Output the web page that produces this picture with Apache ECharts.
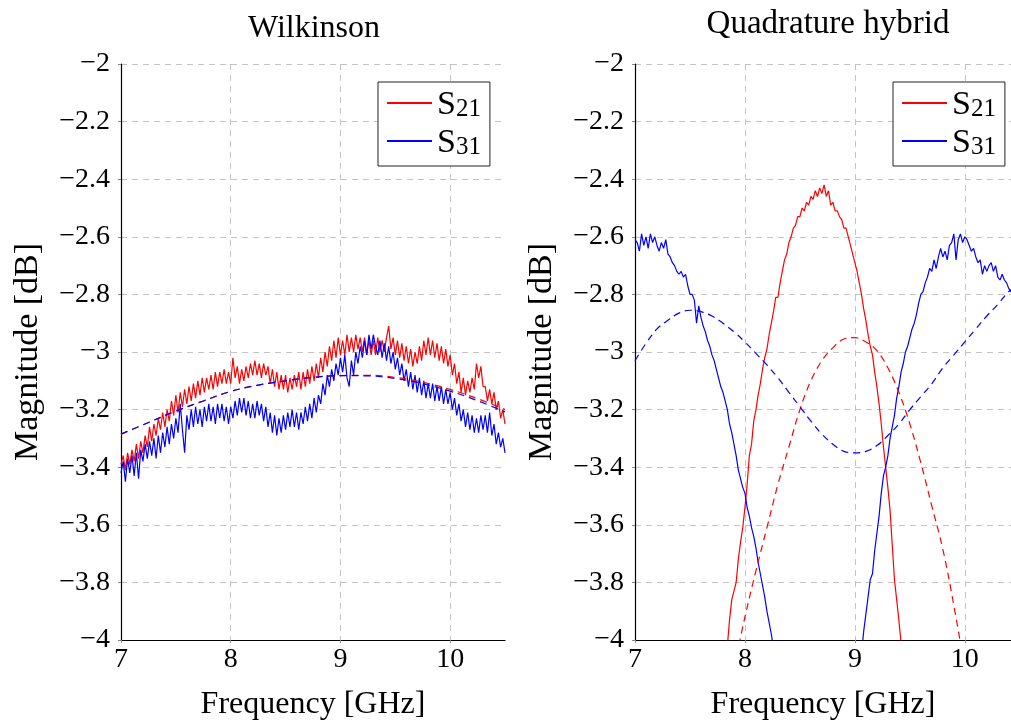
<!DOCTYPE html>
<html>
<head>
<meta charset="utf-8">
<style>
html,body{margin:0;padding:0;background:#fff;}
#chart{width:1011px;height:727px;}
</style>
<script src="https://cdn.jsdelivr.net/npm/echarts/dist/echarts.min.js"></script>
</head>
<body>
<div id="chart"></div>
<script>
// ---------- data ----------
const titles = ['Wilkinson', 'Quadrature hybrid'];
const xTicks = [7, 8, 9, 10];
const yTickStep = 0.2;

// Wilkinson measured, sampled every 0.02 GHz from 7.00 GHz
const wilkStart = 7.00, wilkStep = 0.02;
const wilkS21 = [
-3.39,-3.36,-3.41,-3.35,-3.39,-3.34,-3.38,-3.32,-3.37,-3.31,
-3.35,-3.29,-3.33,-3.26,-3.31,-3.25,-3.29,-3.23,-3.27,-3.21,
-3.26,-3.20,-3.24,-3.17,-3.22,-3.15,-3.21,-3.14,-3.19,-3.13,
-3.18,-3.12,-3.17,-3.11,-3.16,-3.10,-3.15,-3.09,-3.14,-3.09,
-3.13,-3.08,-3.13,-3.07,-3.12,-3.07,-3.11,-3.06,-3.11,-3.07,
-3.11,-3.02,-3.09,-3.05,-3.11,-3.06,-3.10,-3.05,-3.09,-3.04,
-3.08,-3.03,-3.08,-3.04,-3.09,-3.04,-3.08,-3.05,-3.11,-3.06,
-3.12,-3.07,-3.13,-3.08,-3.13,-3.08,-3.14,-3.09,-3.13,-3.08,
-3.12,-3.07,-3.13,-3.07,-3.12,-3.06,-3.11,-3.05,-3.10,-3.04,
-3.09,-3.02,-3.07,-3.00,-3.05,-2.98,-3.03,-2.96,-3.02,-2.95,
-3.01,-2.96,-3.01,-2.94,-3.00,-2.95,-3.00,-2.94,-2.99,-2.95,
-3.00,-2.95,-3.01,-2.96,-3.01,-2.96,-3.01,-2.95,-3.00,-2.96,
-3.00,-2.95,-2.91,-2.99,-2.95,-3.01,-2.96,-3.02,-2.97,-3.03,
-2.98,-3.04,-2.99,-3.05,-3.00,-3.04,-2.98,-3.03,-2.96,-3.01,
-2.95,-3.01,-2.96,-3.02,-2.97,-3.03,-2.98,-3.04,-2.99,-3.05,
-3.01,-3.08,-3.04,-3.11,-3.07,-3.14,-3.09,-3.15,-3.10,-3.14,
-3.09,-3.13,-3.04,-3.09,-3.05,-3.12,-3.12,-3.17,-3.13,-3.18,
-3.14,-3.20,-3.17,-3.23,-3.20,-3.25
];
const wilkS31 = [
-3.42,-3.38,-3.45,-3.37,-3.42,-3.36,-3.43,-3.35,-3.44,-3.34,
-3.38,-3.32,-3.37,-3.31,-3.36,-3.30,-3.37,-3.29,-3.35,-3.28,
-3.33,-3.26,-3.32,-3.25,-3.30,-3.23,-3.28,-3.18,-3.27,-3.35,
-3.22,-3.27,-3.20,-3.26,-3.19,-3.25,-3.20,-3.26,-3.19,-3.24,
-3.18,-3.24,-3.19,-3.25,-3.18,-3.23,-3.18,-3.24,-3.19,-3.25,
-3.19,-3.23,-3.17,-3.22,-3.16,-3.21,-3.16,-3.22,-3.17,-3.23,
-3.18,-3.23,-3.17,-3.22,-3.18,-3.24,-3.19,-3.26,-3.21,-3.28,
-3.22,-3.29,-3.23,-3.28,-3.22,-3.27,-3.21,-3.26,-3.20,-3.26,
-3.21,-3.27,-3.21,-3.25,-3.19,-3.24,-3.18,-3.23,-3.16,-3.21,
-3.15,-3.18,-3.11,-3.15,-3.08,-3.12,-3.06,-3.10,-3.04,-3.08,
-3.02,-3.07,-3.01,-3.09,-3.12,-3.03,-3.08,-3.00,-3.04,-2.98,
-3.02,-2.96,-3.01,-2.94,-2.99,-2.94,-2.98,-3.01,-2.96,-3.02,
-2.97,-3.03,-2.98,-3.04,-3.00,-3.06,-3.02,-3.08,-3.04,-3.10,
-3.06,-3.12,-3.07,-3.13,-3.08,-3.14,-3.09,-3.15,-3.10,-3.16,
-3.11,-3.16,-3.11,-3.17,-3.12,-3.17,-3.12,-3.18,-3.13,-3.18,
-3.14,-3.20,-3.16,-3.22,-3.18,-3.24,-3.20,-3.26,-3.21,-3.27,
-3.22,-3.28,-3.23,-3.28,-3.22,-3.27,-3.22,-3.28,-3.21,-3.29,
-3.25,-3.32,-3.28,-3.33,-3.30,-3.35
];
// Wilkinson simulated (dashed)
const wilkSimF   = [7.00,7.25,7.50,7.75,8.00,8.25,8.50,8.75,9.00,9.25,9.50,9.75,10.00,10.25,10.50];
const wilkSimS21 = [-3.285,-3.245,-3.205,-3.170,-3.137,-3.115,-3.100,-3.088,-3.082,-3.081,-3.088,-3.105,-3.130,-3.162,-3.200];
const wilkSimS31 = [-3.285,-3.245,-3.205,-3.170,-3.137,-3.115,-3.100,-3.088,-3.082,-3.083,-3.092,-3.110,-3.136,-3.169,-3.208];

// Quadrature hybrid measured (sampled every 0.02 GHz)
const qStep = 0.02;
const qS21Start = 7.80;
const qS21 = [
-4.15,-4.09,-4.02,-3.93,-3.86,-3.83,-3.80,-3.72,-3.66,-3.61,
-3.54,-3.46,-3.36,-3.32,-3.24,-3.20,-3.15,-3.11,-3.06,-3.02,
-2.99,-2.94,-2.90,-2.86,-2.81,-2.81,-2.76,-2.72,-2.68,-2.66,
-2.62,-2.60,-2.57,-2.56,-2.53,-2.53,-2.50,-2.51,-2.48,-2.49,
-2.46,-2.47,-2.44,-2.46,-2.43,-2.45,-2.42,-2.46,-2.44,-2.49,
-2.48,-2.51,-2.51,-2.53,-2.54,-2.57,-2.57,-2.60,-2.63,-2.66,
-2.69,-2.72,-2.76,-2.80,-2.85,-2.89,-2.94,-2.98,-3.01,-3.07,
-3.12,-3.18,-3.25,-3.33,-3.40,-3.47,-3.55,-3.67,-3.79,-3.86,
-3.93,-4.01,-4.08,-4.15
];
const qS31LowStart = 7.00;
const qS31Low = [
-2.61,-2.62,-2.65,-2.59,-2.63,-2.60,-2.64,-2.59,-2.62,-2.60,
-2.63,-2.65,-2.62,-2.64,-2.61,-2.66,-2.67,-2.69,-2.70,-2.72,
-2.73,-2.72,-2.74,-2.73,-2.77,-2.80,-2.80,-2.82,-2.90,-2.84,
-2.88,-2.91,-2.93,-2.96,-2.98,-3.01,-3.03,-3.06,-3.09,-3.12,
-3.14,-3.17,-3.20,-3.25,-3.28,-3.32,-3.36,-3.41,-3.44,-3.47,
-3.49,-3.54,-3.57,-3.61,-3.64,-3.68,-3.73,-3.77,-3.81,-3.85,
-3.90,-3.94,-3.98,-4.03,-4.07
];
const qS31HighStart = 9.04;
const qS31High = [
-4.12,-4.05,-3.97,-3.91,-3.85,-3.79,-3.77,-3.69,-3.63,-3.57,
-3.49,-3.43,-3.40,-3.36,-3.30,-3.26,-3.22,-3.16,-3.12,-3.07,
-3.04,-3.00,-2.98,-2.95,-2.92,-2.90,-2.87,-2.83,-2.80,-2.79,
-2.76,-2.74,-2.71,-2.72,-2.68,-2.71,-2.67,-2.64,-2.67,-2.65,
-2.68,-2.63,-2.62,-2.59,-2.68,-2.61,-2.59,-2.62,-2.60,-2.61,
-2.63,-2.65,-2.64,-2.67,-2.69,-2.68,-2.73,-2.70,-2.72,-2.70,
-2.69,-2.72,-2.70,-2.74,-2.75,-2.73,-2.75,-2.76,-2.78,-2.79,
-2.80
];
// Quadrature hybrid simulated (dashed)
const qSimS21F = [7.9,8.0,8.1,8.2,8.3,8.4,8.5,8.6,8.7,8.8,8.9,9.0,9.1,9.2,9.3,9.4,9.5,9.6,9.7,9.8,9.9,10.0];
const qSimS21  = [-4.10,-3.92,-3.76,-3.61,-3.46,-3.33,-3.20,-3.10,-3.03,-2.985,-2.955,-2.95,-2.965,-2.995,-3.055,-3.14,-3.25,-3.385,-3.535,-3.685,-3.88,-4.10];
const qSimS31F = [7.0,7.1,7.2,7.3,7.4,7.5,7.6,7.7,7.8,7.9,8.0,8.1,8.2,8.3,8.4,8.5,8.6,8.7,8.8,8.9,9.0,9.1,9.2,9.3,9.4,9.5,9.6,9.7,9.8,9.9,10.0,10.1,10.2,10.3,10.4,10.5];
const qSimS31  = [-3.03,-2.97,-2.92,-2.89,-2.865,-2.855,-2.86,-2.875,-2.90,-2.93,-2.965,-3.005,-3.045,-3.09,-3.14,-3.19,-3.24,-3.285,-3.32,-3.345,-3.35,-3.345,-3.325,-3.29,-3.25,-3.20,-3.155,-3.11,-3.055,-3.01,-2.965,-2.92,-2.875,-2.835,-2.79,-2.765];

// ---------- helpers ----------
function sampled(start, step, vals){
  return vals.map((v,i)=>[+(start + i*step).toFixed(3), v]);
}
function paired(fs, vals){
  return vals.map((v,i)=>[fs[i], v]);
}
const FONT = 'Liberation Serif';
const RED = '#ff0000', BLUE = '#0000ff';

function yFmt(v){
  const r = Math.round(v*10)/10;
  return (r < 0 ? '\u2212' : '') + String(Math.abs(r));
}

function xAxisCfg(idx, xmax){
  return {
    type:'value', gridIndex: idx, min: 7, max: xmax, interval: 1,
    name: 'Frequency [GHz]', nameLocation: 'middle', nameGap: 49,
    nameTextStyle: {fontFamily: FONT, fontSize: 32, color: '#000'},
    axisLine: {show: true, onZero: false, lineStyle: {color: '#000', width: 1.2}},
    axisTick: {show: true, inside: false, length: 3, lineStyle: {color: '#888'}},
    axisLabel: {show: true, fontFamily: FONT, fontSize: 28, color: '#000', margin: 6,
      showMaxLabel: false, formatter: v => (xTicks.indexOf(v) >= 0 ? String(v) : '')},
    splitLine: {show: true, showMaxLine: false, lineStyle: {color: '#c4c4c4', width: 1, type: [6, 5]}},
    minorTick: {show: false}
  };
}
function yAxisCfg(idx){
  return {
    type:'value', gridIndex: idx, min: -4, max: -2, interval: yTickStep,
    name: 'Magnitude [dB]', nameLocation: 'middle', nameGap: 76, nameRotate: 90,
    nameTextStyle: {fontFamily: FONT, fontSize: 34, color: '#000'},
    axisLine: {show: true, onZero: false, lineStyle: {color: '#000', width: 1.2}},
    axisTick: {show: true, inside: false, length: 3, lineStyle: {color: '#888'}},
    axisLabel: {show: true, fontFamily: FONT, fontSize: 28, color: '#000', margin: 11, formatter: yFmt},
    splitLine: {show: true, lineStyle: {color: '#c4c4c4', width: 1, type: [6, 5]}}
  };
}
function solid(name, color, data, idx){
  return {type:'line', name, data, xAxisIndex: idx, yAxisIndex: idx, symbol:'none', showSymbol:false,
    clip: true, animation:false, lineStyle:{color, width:1.2}, itemStyle:{color}, emphasis:{disabled:true}};
}
function dashed(name, color, data, idx){
  return {type:'line', name, data, xAxisIndex: idx, yAxisIndex: idx, symbol:'none', showSymbol:false,
    smooth: 0.4, clip: true, animation:false, lineStyle:{color, width:1.2, type:[7,5]}, itemStyle:{color},
    emphasis:{disabled:true}};
}
function legendCfg(left){
  return {
    orient:'vertical', left, top: 82, data:['S21','S31'],
    backgroundColor:'#fff', borderColor:'#222', borderWidth:1, borderRadius:0,
    padding:[6, 9, 6, 9], itemGap: 4, itemWidth: 45, itemHeight: 2, icon: 'rect',
    selectedMode: false,
    formatter: name => '{s|S}{n|' + name.slice(1) + '}',
    textStyle: {color:'#000', fontFamily: FONT,
      rich: {
        s: {fontSize: 34, fontFamily: FONT, color:'#000', lineHeight: 38, verticalAlign:'bottom'},
        n: {fontSize: 25, fontFamily: FONT, color:'#000', lineHeight: 24, verticalAlign:'bottom'}
      }}
  };
}

const chart = echarts.init(document.getElementById('chart'), null, {renderer:'canvas'});
chart.setOption({
  animation: false,
  backgroundColor: '#fff',
  title: [
    {text: titles[0], left: 309, top: 8, textAlign: 'center',
      textStyle:{fontFamily: FONT, fontSize: 32, fontWeight:'normal', color:'#000'}},
    {text: titles[1], left: 823, top: 3, textAlign: 'center',
      textStyle:{fontFamily: FONT, fontSize: 33, fontWeight:'normal', color:'#000'}}
  ],
  grid: [
    {left: 121, top: 64, width: 384, height: 576, containLabel: false},
    {left: 635, top: 64, width: 376, height: 576, containLabel: false}
  ],
  xAxis: [xAxisCfg(0, 10.5), xAxisCfg(1, 10.42)],
  yAxis: [yAxisCfg(0), yAxisCfg(1)],
  legend: [legendCfg(378), legendCfg(893)],
  series: [
    solid('S21', RED, sampled(wilkStart, wilkStep, wilkS21), 0),
    solid('S31', BLUE, sampled(wilkStart, wilkStep, wilkS31), 0),
    dashed('S21 sim', RED, paired(wilkSimF, wilkSimS21), 0),
    dashed('S31 sim', BLUE, paired(wilkSimF, wilkSimS31), 0),
    solid('S21', RED, sampled(qS21Start, qStep, qS21), 1),
    solid('S31', BLUE, sampled(qS31LowStart, qStep, qS31Low), 1),
    solid('S31', BLUE, sampled(qS31HighStart, qStep, qS31High), 1),
    dashed('S21 sim', RED, paired(qSimS21F, qSimS21), 1),
    dashed('S31 sim', BLUE, paired(qSimS31F, qSimS31), 1)
  ]
});
</script>
</body>
</html>
